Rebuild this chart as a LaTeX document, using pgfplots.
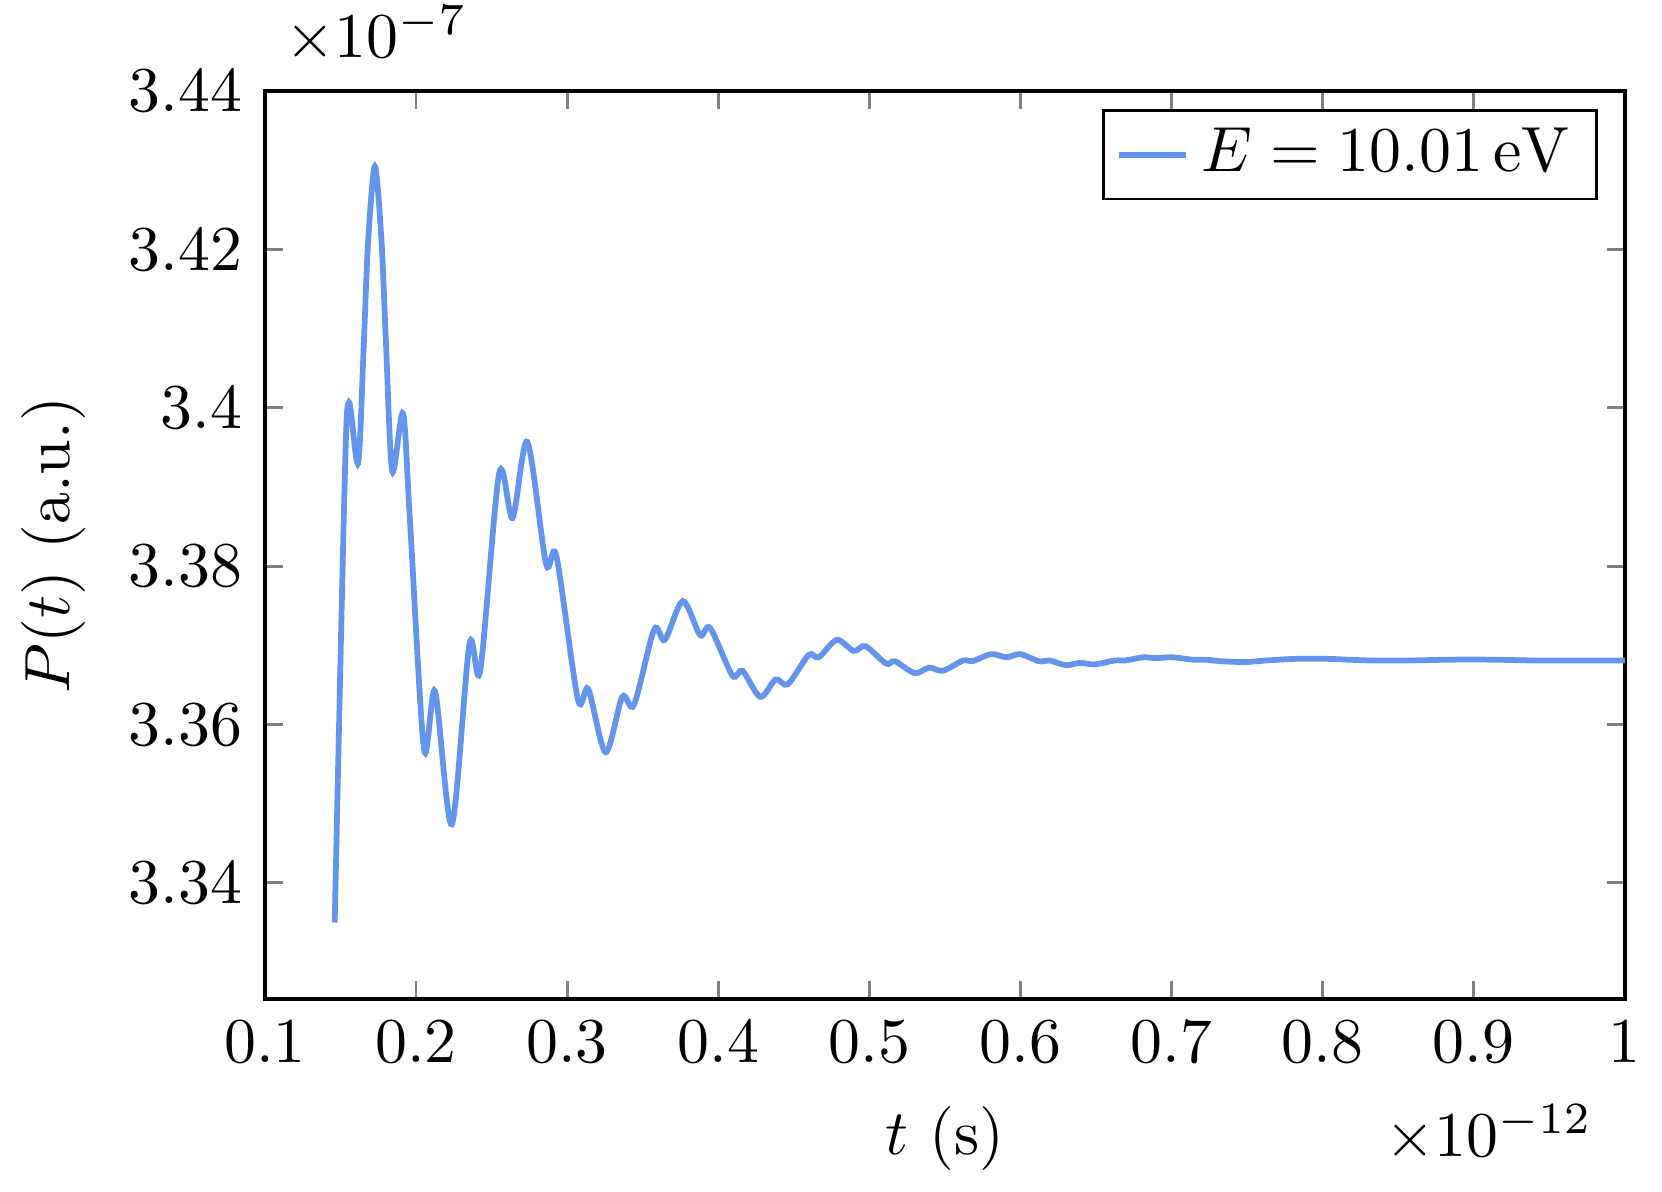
\documentclass[border=0pt]{standalone}
\usepackage{pgfplots}
\pgfplotsset{compat=1.18}
\definecolor{cfblue}{RGB}{100,149,237}

\begin{document}
\begin{tikzpicture}
\begin{axis}[
    scale only axis,
    width=213.1pt,
    height=142.3pt,
    xmin=0.1, xmax=1,
    ymin=3.3253, ymax=3.44,
    xtick={0.1,0.2,0.3,0.4,0.5,0.6,0.7,0.8,0.9,1},
    ytick={3.34,3.36,3.38,3.40,3.42,3.44},
    scaled x ticks=manual:{$\times10^{-12}$}{\pgfmathparse{#1}},
    scaled y ticks=manual:{$\times10^{-7}$}{\pgfmathparse{#1}},
    every x tick scale label/.append style={yshift=2pt},
    xlabel={$t$ (s)},
    ylabel={$P(t)$ (a.u.)},
    axis line style={line width=0.6pt},
    tick style={gray, line width=0.45pt},
    major tick length=0.1cm,
    legend style={draw=black, line width=0.4pt, inner xsep=2pt, inner ysep=0.75pt},
    legend image code/.code={\draw[#1] (0cm,0cm) -- (0.37cm,0cm);},
]
\addplot[color=cfblue, line width=0.9pt, smooth] coordinates {
    (0.1462,3.3350) (0.1529,3.3914) (0.1557,3.4007)
    (0.1617,3.3930) (0.1655,3.4083) (0.1683,3.4210) (0.1728,3.4305)
    (0.1772,3.4210) (0.1801,3.4083) (0.1843,3.3920) (0.1914,3.3993)
    (0.1960,3.3858) (0.2053,3.3569) (0.2126,3.3642)
    (0.2237,3.3474) (0.2354,3.3702) (0.2425,3.3668) (0.2551,3.3918)
    (0.2639,3.3861) (0.2737,3.3957) (0.2861,3.3803) (0.2929,3.3813)
    (0.3071,3.3632) (0.3140,3.3645) (0.3255,3.3565) (0.3365,3.3635)
    (0.3443,3.3625) (0.3576,3.3720) (0.3647,3.3707) (0.3766,3.3756)
    (0.3880,3.3713) (0.3947,3.3722) (0.4094,3.3662) (0.4161,3.3668)
    (0.4278,3.3635) (0.4380,3.3657) (0.4461,3.3651) (0.4599,3.3688)
    (0.4666,3.3685) (0.4785,3.3707) (0.4897,3.3693) (0.4975,3.3699)
    (0.5111,3.3677) (0.5170,3.3680) (0.5301,3.3665) (0.5396,3.3672)
    (0.5487,3.3668) (0.5622,3.3681) (0.5682,3.3680) (0.5808,3.3689)
    (0.5908,3.3685) (0.5999,3.3689) (0.6122,3.3680) (0.6194,3.3681)
    (0.6301,3.3675) (0.6395,3.3678) (0.6490,3.3676) (0.6626,3.3681)
    (0.6693,3.3681) (0.6815,3.3685) (0.6897,3.3684) (0.7005,3.3685)
    (0.7141,3.3682) (0.7222,3.3682) (0.7331,3.3680) (0.7494,3.3679)
    (0.7629,3.3681) (0.7819,3.3683) (0.8036,3.3683) (0.8307,3.3681)
    (0.8578,3.3681) (0.8849,3.3682) (0.9120,3.3682) (0.9391,3.3681)
    (0.9662,3.3681) (1.0000,3.3681)
};
\addlegendentry{$E = 10.01\,\mathrm{eV}$}
\end{axis}
\path ([yshift=0.85pt]current bounding box.north);
\end{tikzpicture}
\end{document}
